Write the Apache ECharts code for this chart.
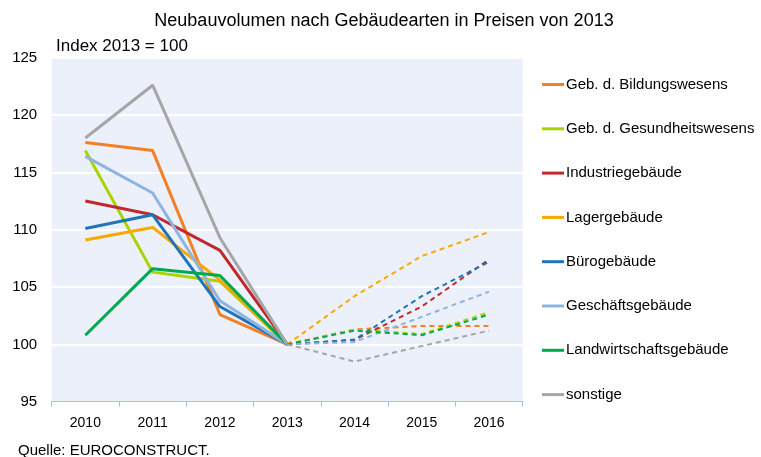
<!DOCTYPE html>
<html><head><meta charset="utf-8">
<script src="https://cdn.jsdelivr.net/npm/echarts@6/dist/echarts.min.js"></script>
<style>html,body{margin:0;padding:0;background:#fff}#c{width:761px;height:457px}</style>
</head><body><div id="c"></div>
<script>
const years = ['2010','2011','2012','2013','2014','2015','2016'];
const names = ['Geb. d. Bildungswesens','Geb. d. Gesundheitswesens','Industriegebäude','Lagergebäude','Bürogebäude','Geschäftsgebäude','Landwirtschaftsgebäude','sonstige'];
const colors = ['#F28024','#A8D400','#C0282D','#FAA800','#2074B8','#8DB4E2','#00A84F','#A6A6A6'];
// actual values 2010-2013
const bildung      = [117.6, 116.9, 102.6, 100];
const gesundheit   = [116.9, 106.3, 105.5, 100];
const industrie    = [112.5, 111.3, 108.2, 100];
const lager        = [109.1, 110.2, 105.6, 100];
const buero        = [110.1, 111.3, 103.3, 100];
const geschaeft    = [116.4, 113.2, 103.8, 100];
const landwirt     = [100.8, 106.6, 106.0, 100];
const sonstige     = [118.0, 122.6, 109.3, 100];
// forecast 2013-2016
const bildungF     = [100, 101.3, 101.6, 101.6];
const gesundheitF  = [100, 101.3, 100.9, 102.8];
const industrieF   = [100, 100.4, 103.3, 107.4];
const lagerF       = [100, 104.2, 107.7, 109.8];
const bueroF       = [100, 100.4, 104.2, 107.2];
const geschaeftF   = [100, 100.2, 102.4, 104.6];
const landwirtF    = [100, 101.2, 100.8, 102.6];
const sonstigeF    = [100, 98.5, 99.85, 101.2];
const yTicks = [95, 100, 105, 110, 115, 120, 125];

const actual = [bildung, gesundheit, industrie, lager, buero, geschaeft, landwirt, sonstige];
const forecast = [bildungF, gesundheitF, industrieF, lagerF, bueroF, geschaeftF, landwirtF, sonstigeF];
const FF = 'Liberation Sans, Arial, sans-serif';

const series = [];
names.forEach((n, i) => {
  series.push({
    name: n, type: 'line', symbol: 'none', animation: false,
    data: actual[i].concat([null, null, null]),
    lineStyle: {color: colors[i], width: 3}, itemStyle: {color: colors[i]}
  });
});
names.forEach((n, i) => {
  series.push({
    name: n, type: 'line', symbol: 'none', animation: false,
    data: [null, null, null].concat(forecast[i]),
    lineStyle: {color: colors[i], width: 2, type: [5, 4]}, itemStyle: {color: colors[i]}
  });
});

const chart = echarts.init(document.getElementById('c'));
chart.setOption({
  animation: false,
  textStyle: {fontFamily: FF},
  title: [
    {text: 'Neubauvolumen nach Gebäudearten in Preisen von 2013', left: 379, top: 7, textAlign: 'center',
     textStyle: {fontSize: 18, fontWeight: 'normal', color: '#000', fontFamily: FF}},
    {text: 'Index 2013 = 100', left: 51, top: 33,
     textStyle: {fontSize: 17, fontWeight: 'normal', color: '#000', fontFamily: FF}},
    {text: 'Quelle: EUROCONSTRUCT.', left: 13, top: 438,
     textStyle: {fontSize: 15, fontWeight: 'normal', color: '#000', fontFamily: FF}}
  ],
  legend: {
    data: names, orient: 'vertical', left: 537, top: 72, itemGap: 29.3,
    icon: 'rect', itemWidth: 22, itemHeight: 3,
    textStyle: {fontSize: 15, color: '#000', fontFamily: FF, padding: [0,0,0,-3]}
  },
  grid: {left: 51.7, right: 238.3, top: 57.7, bottom: 55.3, show: true, backgroundColor: '#EBF0FA', borderWidth: 0},
  xAxis: {
    type: 'category', data: years, boundaryGap: true,
    axisLine: {lineStyle: {color: '#A9C0E0', width: 1}},
    axisTick: {show: true, length: 5, lineStyle: {color: '#A9C0E0'}},
    axisLabel: {fontSize: 14, color: '#000', margin: 14}
  },
  yAxis: {
    type: 'value', min: yTicks[0], max: yTicks[yTicks.length-1], interval: 5,
    axisLine: {show: false}, axisTick: {show: false},
    axisLabel: {fontSize: 15, color: '#000', margin: 14.5},
    splitLine: {lineStyle: {color: '#FFFFFF', width: 2}}
  },
  series: series
});
</script></body></html>
